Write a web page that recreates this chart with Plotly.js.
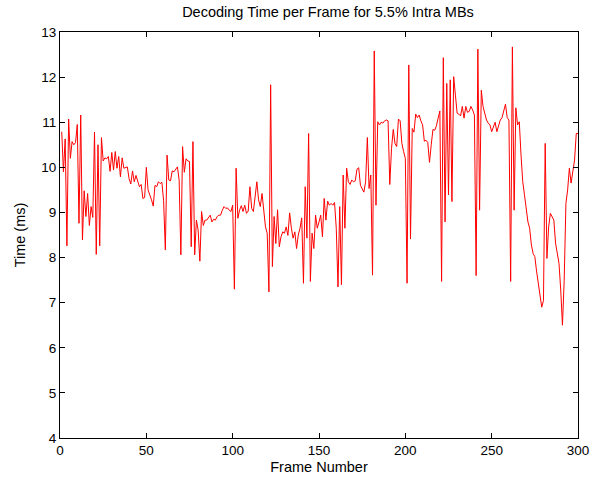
<!DOCTYPE html>
<html>
<head>
<meta charset="utf-8">
<script src="https://cdn.plot.ly/plotly-3.0.1.min.js"></script>
<style>html,body{margin:0;padding:0;background:#fff;}#chart{width:593px;height:482px;}</style>
</head>
<body>
<div id="chart"></div>
<script>
// Decoding time (ms) per frame, frames 1..300
const decodeTimeMs = [
  10.79, 9.90, 10.63, 8.26, 11.07, 10.20, 10.57, 10.50, 10.55, 10.95,
  8.76, 11.16, 8.39, 9.48, 8.91, 9.42, 8.71, 9.13, 8.89, 10.78,
  8.07, 10.50, 8.26, 10.66, 10.14, 10.21, 10.19, 10.24, 9.91, 10.33,
  9.94, 10.35, 9.98, 10.24, 9.79, 10.21, 9.98, 10.00, 10.01, 9.75,
  9.63, 9.92, 9.68, 9.82, 9.70, 9.57, 9.62, 9.31, 9.33, 10.00,
  9.50, 9.40, 9.28, 9.14, 9.60, 9.57, 9.68, 9.64, 9.67, 9.26,
  8.17, 10.27, 9.72, 9.70, 9.92, 9.90, 9.95, 10.01, 9.72, 8.06,
  10.46, 9.89, 10.19, 10.14, 10.13, 8.24, 10.57, 8.06, 8.83, 8.61,
  7.92, 9.02, 8.71, 8.83, 8.83, 8.89, 8.94, 8.79, 8.85, 8.83,
  8.91, 8.94, 8.94, 9.05, 9.13, 9.09, 9.10, 9.05, 9.02, 9.16,
  7.30, 9.98, 8.87, 9.05, 9.15, 9.02, 9.16, 8.98, 9.03, 9.57,
  9.09, 9.02, 9.35, 9.68, 9.28, 9.13, 9.42, 9.09, 8.68, 8.54,
  7.24, 11.83, 7.80, 8.91, 8.31, 9.06, 8.24, 8.46, 8.57, 8.54,
  8.68, 8.49, 8.99, 8.65, 8.43, 8.57, 8.20, 8.50, 8.65, 8.88,
  7.43, 9.57, 8.43, 10.75, 7.47, 8.54, 8.20, 8.94, 8.65, 8.79,
  8.94, 8.46, 9.31, 8.83, 9.25, 9.16, 9.20, 9.16, 9.22, 8.65,
  7.35, 9.13, 7.40, 9.83, 8.65, 9.98, 9.68, 9.62, 9.72, 9.68,
  9.70, 9.96, 9.99, 9.60, 9.53, 9.45, 9.68, 10.66, 9.53, 9.83,
  7.61, 12.58, 9.16, 11.01, 10.94, 11.00, 10.98, 11.03, 11.05, 11.03,
  9.62, 10.42, 10.84, 10.53, 10.46, 11.07, 11.03, 10.53, 10.35, 10.20,
  7.43, 12.27, 8.41, 10.86, 10.78, 11.18, 11.10, 11.16, 11.03, 10.94,
  10.58, 10.60, 10.55, 10.11, 10.50, 10.84, 10.82, 10.92, 11.09, 11.25,
  7.47, 12.43, 8.79, 11.86, 9.39, 11.94, 9.24, 12.01, 11.60, 11.20,
  11.18, 11.14, 11.35, 11.09, 11.35, 11.22, 11.24, 11.35, 11.27, 11.16,
  7.60, 12.62, 9.05, 11.71, 11.35, 11.20, 11.05, 10.98, 10.94, 10.79,
  10.88, 11.00, 10.79, 10.95, 11.05, 11.10, 11.25, 11.40, 11.10, 11.05,
  7.47, 12.67, 9.05, 11.32, 10.94, 11.01, 10.27, 9.68, 9.39, 9.02,
  8.79, 8.65, 8.28, 8.09, 8.02, 7.70, 7.45, 7.20, 6.90, 7.05,
  10.53, 7.98, 8.68, 8.98, 8.90, 8.83, 8.32, 8.09, 7.87, 7.28,
  6.50, 7.50, 9.20, 9.50, 9.98, 9.65, 9.94, 10.16, 10.75, 10.75
];
const frameNumbers = decodeTimeMs.map((_, i) => i + 1);
const xTicks = [0, 50, 100, 150, 200, 250, 300];
const yTicks = [4, 5, 6, 7, 8, 9, 10, 11, 12, 13];
const titleText = 'Decoding Time per Frame for 5.5% Intra MBs';
const xLabel = 'Frame Number';
const yLabel = 'Time (ms)';

const fam = 'Liberation Sans, Arial, sans-serif';
const tickFont = {family: fam, size: 13.5, color: '#000'};
const labelFont = {family: fam, size: 14.5, color: '#000'};

const trace = {
  x: frameNumbers,
  y: decodeTimeMs,
  type: 'scatter',
  mode: 'lines',
  line: {color: '#ff0000', width: 1},
  hoverinfo: 'skip'
};

const axisCommon = {
  showline: true, linecolor: '#000', linewidth: 1, mirror: 'ticks',
  ticks: 'inside', ticklen: 5, tickwidth: 1, tickcolor: '#000',
  showgrid: false, zeroline: false, tickfont: tickFont
};

const layout = {
  width: 593, height: 482,
  margin: {l: 60, r: 15, t: 32, b: 44},
  paper_bgcolor: '#fff', plot_bgcolor: '#fff',
  showlegend: false,
  font: tickFont,
  title: {text: titleText, font: labelFont,
          x: 328 / 593, xanchor: 'center', y: 1 - 12/482, yanchor: 'middle', yref: 'container'},
  xaxis: Object.assign({}, axisCommon, {
    range: [0, 300], tickmode: 'array', tickvals: xTicks, ticktext: xTicks.map(String),
    title: {text: xLabel, font: labelFont, standoff: 4}
  }),
  yaxis: Object.assign({}, axisCommon, {
    range: [4, 13], tickmode: 'array', tickvals: yTicks, ticktext: yTicks.map(String),
    title: {text: yLabel, font: labelFont, standoff: 12}
  })
};

Plotly.newPlot('chart', [trace], layout, {displayModeBar: false, staticPlot: true});
</script>
</body>
</html>
